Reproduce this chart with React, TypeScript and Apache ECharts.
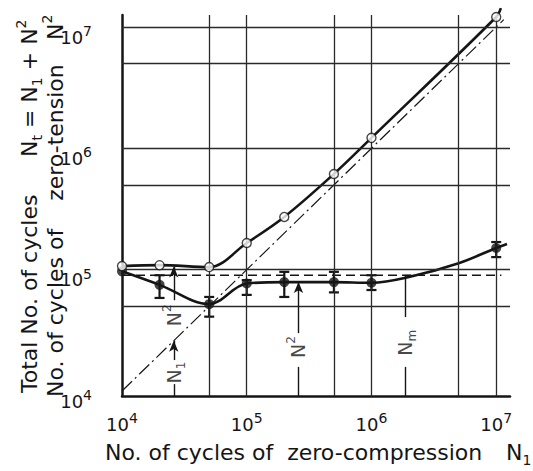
import React, { useEffect, useRef } from 'react';
import * as echarts from 'echarts';

// ---- values ----
const N1_TESTED = [1e4, 2e4, 5e4, 1e5, 2e5, 5e5, 1e6, 1e7];
const NT_TOTAL = [1.07e5, 1.09e5, 1.05e5, 1.66e5, 2.72e5, 6.15e5, 1.22e6, 1.21e7];
const N2_MEAN = [9.7e4, 7.5e4, 5.2e4, 7.7e4, 7.9e4, 7.9e4, 7.8e4, 1.51e5];
const ERR_N1 = [2e4, 5e4, 1e5, 2e5, 5e5, 1e6, 1e7];
const ERR_HIGH = [9.0e4, 5.96e4, 8.2e4, 9.6e4, 9.6e4, 9.0e4, 1.69e5];
const ERR_LOW = [5.85e4, 4.1e4, 6.2e4, 5.96e4, 6.5e4, 6.8e4, 1.27e5];
const NT_CURVE_X = [1e4, 2e4, 5e4, 1e5, 2e5, 5e5, 1e6, 1e7, 1.09e7];
const NT_CURVE_Y = [1.07e5, 1.09e5, 1.05e5, 1.66e5, 2.72e5, 6.15e5, 1.22e6, 1.21e7, 1.43e7];
const N2_CURVE_X = [1e4, 2e4, 5e4, 1e5, 2e5, 5e5, 1e6, 2e6, 5e6, 1e7, 1.22e7];
const N2_CURVE_Y = [9.7e4, 7.5e4, 5.2e4, 7.7e4, 7.9e4, 7.9e4, 7.8e4, 8.7e4, 1.13e5, 1.51e5, 1.63e5];
const NM_LEVEL = 9.0e4;
const NM_RANGE = [1e4, 1.1e7];
const DIAGONAL = [1e4, 1.15e7];
const GRID_VALUES = [5e4, 1e5, 5e5, 1e6, 5e6, 1e7];
const X_RANGE = [1e4, 1.29e7];
const Y_RANGE = [9.1e3, 1.256e7];
// annotation lines: x position, from, to, arrow head
const ANN_X = [2.6e4, 2.6e4, 2.6e4, 2.6e5, 2.6e5, 1.85e6, 1.85e6];
const ANN_FROM = [9.1e3, 1.8e4, 5.6e4, 9.1e3, 3.0e4, 9.1e3, 4.07e4];
const ANN_TO = [1.14e4, 2.6e4, 1.06e5, 1.58e4, 7.9e4, 1.58e4, 9.0e4];
const ANN_ARROW = [false, true, true, false, true, false, false];
const NM_BAR = [1.85e6, 2.2e6];
const LABEL_X = [2.6e4, 2.6e4, 2.6e5, 1.85e6];
const LABEL_Y = [1.42e4, 4.2e4, 2.3e4, 2.5e4];
const LABEL_INDEX = ['1', '2', '2', 'm'];
const LABEL_KIND = ['sub', 'sup', 'sup', 'sub'];

const INK = '#151515';
const TICK_FONT = "'Liberation Sans Narrow', 'DejaVu Sans', sans-serif";
const TITLE_FONT = "'DejaVu Sans', sans-serif";

export default function App() {
  const ref = useRef<HTMLDivElement>(null);
  useEffect(() => {
    const chart = echarts.init(ref.current!, null, { renderer: 'svg' });

    const tickRich: any = {
      b: { fontFamily: TICK_FONT, fontSize: 18, lineHeight: 26, color: INK },
      s: { fontFamily: TICK_FONT, fontSize: 14, lineHeight: 14, verticalAlign: 'top', color: INK },
    };
    const powLabel = (v: number) => {
      const e = Math.log10(v);
      const r = Math.round(e);
      if (Math.abs(e - r) > 1e-6) return '';
      return `{b|10}{s|${r}}`;
    };
    const titleRich: any = {
      t: { fontFamily: TITLE_FONT, fontSize: 22, lineHeight: 30, color: INK },
      sub: { fontFamily: TITLE_FONT, fontSize: 14, lineHeight: 16, verticalAlign: 'bottom', color: INK },
      sup: { fontFamily: TITLE_FONT, fontSize: 14, lineHeight: 16, verticalAlign: 'top', color: INK },
    };
    const annRich: any = {
      n: { fontFamily: TITLE_FONT, fontSize: 19, lineHeight: 26, color: INK },
      sub: { fontFamily: TITLE_FONT, fontSize: 12, lineHeight: 14, verticalAlign: 'bottom', color: INK },
      sup: { fontFamily: TITLE_FONT, fontSize: 12, lineHeight: 14, verticalAlign: 'top', color: INK },
    };

    const gridLines = [
      ...GRID_VALUES.map((v) => ({ xAxis: v })),
      ...GRID_VALUES.map((v) => ({ yAxis: v })),
    ];
    const annLines: any[] = ANN_X.map((x, i) => [
      { coord: [x, ANN_FROM[i]], symbol: 'none' },
      { coord: [x, ANN_TO[i]], symbol: ANN_ARROW[i] ? 'arrow' : 'none', symbolSize: [7, 11] },
    ]);
    annLines.push([
      { coord: [NM_BAR[0], NM_LEVEL], symbol: 'none' },
      { coord: [NM_BAR[1], NM_LEVEL], symbol: 'none' },
    ]);

    const titleText = (x: number, y: number, text: string, rotate: boolean) => ({
      type: 'text',
      x,
      y,
      rotation: rotate ? Math.PI / 2 : 0,
      silent: true,
      style: { text, rich: titleRich, align: 'left', verticalAlign: 'middle', fill: INK },
    });

    chart.setOption({
      animation: false,
      backgroundColor: '#ffffff',
      grid: { left: 122, right: 23, top: 15, bottom: 75, containLabel: false, outerBoundsMode: 'none' },
      xAxis: {
        type: 'log',
        logBase: 10,
        min: X_RANGE[0],
        max: X_RANGE[1],
        axisLine: { show: true, lineStyle: { color: INK, width: 2.5 } },
        axisTick: { show: false },
        splitLine: { show: false },
        axisLabel: { margin: 15, formatter: powLabel, rich: tickRich, hideOverlap: false },
      },
      yAxis: {
        type: 'log',
        logBase: 10,
        min: Y_RANGE[0],
        max: Y_RANGE[1],
        axisLine: { show: true, lineStyle: { color: INK, width: 2.5 } },
        axisTick: { show: false },
        splitLine: { show: false },
        axisLabel: { margin: 30, formatter: powLabel, rich: tickRich, padding: [20, 0, 0, 0], hideOverlap: false },
      },
      graphic: [
        titleText(29, 393, '{t|Total No. of cycles}', true),
        titleText(29, 157, '{t|N}{sub|t}{t| = N}{sub|1}{t| + N}{sup|2}', true),
        titleText(55, 397, '{t|No. of cycles of    zero-tension}', true),
        titleText(55, 40, '{t|N}{sup|2}', true),
        titleText(105, 452, '{t|No. of cycles of  zero-compression}', false),
        titleText(506, 452, '{t|N}{sub|1}', false),
      ],
      series: [
        {
          name: 'diagonal',
          type: 'line',
          data: DIAGONAL.map((v) => [v, v]),
          symbol: 'none',
          lineStyle: { color: INK, width: 1.2, type: [14, 4, 2, 4] },
          z: 1,
          silent: true,
          markLine: {
            silent: true,
            symbol: ['none', 'none'],
            label: { show: false },
            lineStyle: { color: '#2a2a2a', width: 1.3, type: 'solid' },
            emphasis: { disabled: true },
            data: gridLines,
          },
        },
        {
          name: 'Nm',
          type: 'line',
          data: NM_RANGE.map((v) => [v, NM_LEVEL]),
          symbol: 'none',
          lineStyle: { color: INK, width: 1.6, type: [9, 5] },
          z: 2,
          silent: true,
          markLine: {
            silent: true,
            symbol: ['none', 'none'],
            label: { show: false },
            lineStyle: { color: INK, width: 1.4, type: 'solid' },
            emphasis: { disabled: true },
            data: annLines,
          },
        },
        {
          name: 'Nt curve',
          type: 'line',
          data: NT_CURVE_X.map((x, i) => [x, NT_CURVE_Y[i]]),
          symbol: 'none',
          smooth: 0.35,
          clip: false,
          lineStyle: { color: INK, width: 2.6 },
          z: 3,
          silent: true,
        },
        {
          name: 'N2 curve',
          type: 'line',
          data: N2_CURVE_X.map((x, i) => [x, N2_CURVE_Y[i]]),
          symbol: 'none',
          smooth: 0.35,
          lineStyle: { color: INK, width: 2.6 },
          z: 3,
          silent: true,
        },
        {
          name: 'N2 scatter',
          type: 'custom',
          data: ERR_N1.map((x, i) => [x, ERR_LOW[i], ERR_HIGH[i]]),
          encode: { x: 0, y: [1, 2] },
          z: 4,
          silent: true,
          renderItem: (params: any, api: any) => {
            const lo = api.coord([api.value(0), api.value(1)]);
            const hi = api.coord([api.value(0), api.value(2)]);
            const w = 5;
            const style = { stroke: INK, lineWidth: 2.2 };
            return {
              type: 'group',
              children: [
                { type: 'line', shape: { x1: lo[0], y1: lo[1], x2: hi[0], y2: hi[1] }, style },
                { type: 'line', shape: { x1: lo[0] - w, y1: lo[1], x2: lo[0] + w, y2: lo[1] }, style },
                { type: 'line', shape: { x1: hi[0] - w, y1: hi[1], x2: hi[0] + w, y2: hi[1] }, style },
              ],
            };
          },
        },
        {
          name: 'N2 points',
          type: 'scatter',
          data: N1_TESTED.map((x, i) => [x, N2_MEAN[i]]),
          symbol: 'circle',
          symbolSize: 10,
          itemStyle: { color: INK },
          z: 5,
          silent: true,
        },
        {
          name: 'Nt points',
          type: 'scatter',
          data: N1_TESTED.map((x, i) => [x, NT_TOTAL[i]]),
          symbol: 'circle',
          symbolSize: 9,
          itemStyle: { color: '#ffffff', borderColor: INK, borderWidth: 1.4 },
          z: 5,
          silent: true,
        },
        {
          name: 'labels',
          type: 'scatter',
          data: LABEL_X.map((x, i) => ({
            value: [x, LABEL_Y[i]],
            label: { formatter: `{n|N}{${LABEL_KIND[i]}|${LABEL_INDEX[i]}}` },
          })),
          symbolSize: 0,
          z: 6,
          silent: true,
          label: { show: true, position: 'inside', rotate: 90, rich: annRich, color: INK },
        },
      ],
    });
    return () => chart.dispose();
  }, []);
  return (
    <div
      ref={ref}
      style={{ position: 'fixed', left: 0, top: 0, width: 533, height: 471, background: '#fff' }}
    />
  );
}
